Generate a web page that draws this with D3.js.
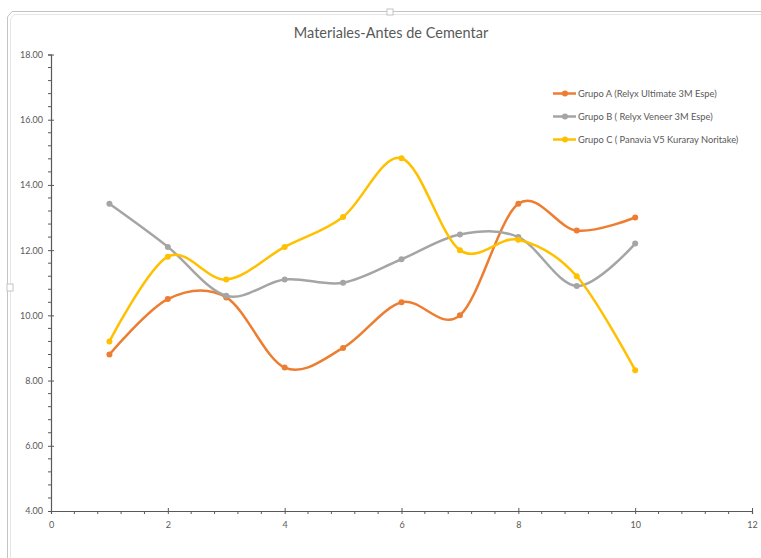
<!DOCTYPE html>
<html>
<head>
<meta charset="utf-8">
<script src="https://cdn.jsdelivr.net/npm/d3@7"></script>
<style>
  html, body { margin: 0; padding: 0; background: #fff; }
  svg { display: block; }
</style>
</head>
<body>
<svg id="chart" width="761" height="558"></svg>
<script>
// Measurement positions (x) and each group's values
const xValues = [1, 2, 3, 4, 5, 6, 7, 8, 9, 10];
const grupoA = [8.8, 10.5, 10.55, 8.4, 9.0, 10.4, 10.0, 13.42, 12.6, 13.0];
const grupoB = [13.42, 12.1, 10.6, 11.1, 11.0, 11.72, 12.48, 12.4, 10.9, 12.2];
const grupoC = [9.2, 11.8, 11.1, 12.1, 13.02, 14.82, 12.0, 12.32, 11.2, 8.32];
const seriesNames = [
  "Grupo A (Relyx Ultimate 3M Espe)",
  "Grupo B ( Relyx Veneer 3M Espe)",
  "Grupo C ( Panavia V5 Kuraray Noritake)"
];
const seriesColors = ["#ED7D31", "#A5A5A5", "#FFC000"];
const yTicks = [4, 6, 8, 10, 12, 14, 16, 18];
const xTicks = [0, 2, 4, 6, 8, 10, 12];
const chartTitle = "Materiales-Antes de Cementar";

const svg = d3.select("#chart");
const font = "Lato, 'Open Sans', sans-serif";

// Chart frame with double edge and sizing handles
const frame = svg.append("g");
frame.append("path").attr("d", "M7.5,558 V17 L12,11.5 H761")
  .attr("fill", "none").attr("stroke", "#c4c4c4").attr("stroke-width", 1);
frame.append("path").attr("d", "M10.5,558 V19 L14,14.5 H761")
  .attr("fill", "none").attr("stroke", "#e6e6e6").attr("stroke-width", 1);
frame.append("rect").attr("x", 387).attr("y", 9).attr("width", 6).attr("height", 6)
  .attr("fill", "#fff").attr("stroke", "#c4c4c4");
frame.append("rect").attr("x", 7).attr("y", 284).attr("width", 6).attr("height", 7)
  .attr("fill", "#fff").attr("stroke", "#c4c4c4");

// Scales
const x = d3.scaleLinear().domain([0, 12]).range([51, 752]);
const y = d3.scaleLinear().domain([4, 18]).range([511, 54.5]);

// Title
svg.append("text")
  .attr("x", 391).attr("y", 38)
  .attr("text-anchor", "middle")
  .attr("font-family", font).attr("font-size", 14.5)
  .attr("fill", "#595959")
  .text(chartTitle);

// Axes
const axisColor = "#595959";
const yMinor = d3.range(4, 18.001, 0.4).filter(v => Math.abs(v / 2 - Math.round(v / 2)) > 1e-6);
const xMinor = d3.range(0, 12.001, 0.4).filter(v => Math.abs(v / 2 - Math.round(v / 2)) > 1e-6);

const yAxisG = svg.append("g").attr("transform", `translate(${x(0)},0)`)
  .call(d3.axisLeft(y).tickValues(yTicks).tickFormat(d3.format(".2f")).tickSize(3).tickPadding(5));
const xAxisG = svg.append("g").attr("transform", `translate(0,${y(4)})`)
  .call(d3.axisBottom(x).tickValues(xTicks).tickFormat(d3.format("d")).tickSize(3).tickPadding(8));

[yAxisG, xAxisG].forEach(g => {
  g.select(".domain").attr("stroke", axisColor).attr("stroke-width", 1.2);
  g.selectAll(".tick line").attr("stroke", axisColor);
  g.selectAll(".tick text").attr("fill", "#595959").attr("font-family", font).attr("font-size", 9);
});
// Major ticks cross the axis line
yAxisG.selectAll(".tick line").attr("x1", 3);
xAxisG.selectAll(".tick line").attr("y1", -3);

// Minor ticks outside the axes
yAxisG.selectAll(".minor").data(yMinor).enter().append("line")
  .attr("x1", -3).attr("x2", 0).attr("y1", d => y(d)).attr("y2", d => y(d))
  .attr("stroke", axisColor);
xAxisG.selectAll(".minor").data(xMinor).enter().append("line")
  .attr("y1", 0).attr("y2", 3).attr("x1", d => x(d)).attr("x2", d => x(d))
  .attr("stroke", axisColor);

// Smoothed series lines with point markers
const line = d3.line()
  .x(d => x(d[0])).y(d => y(d[1]))
  .curve(d3.curveCatmullRom.alpha(0));

[grupoA, grupoB, grupoC].forEach((vals, i) => {
  const pts = xValues.map((xv, j) => [xv, vals[j]]);
  const g = svg.append("g");
  g.append("path").datum(pts).attr("d", line)
    .attr("fill", "none").attr("stroke", seriesColors[i])
    .attr("stroke-width", 2.5).attr("stroke-linejoin", "round");
  g.selectAll("circle").data(pts).enter().append("circle")
    .attr("cx", d => x(d[0])).attr("cy", d => y(d[1])).attr("r", 3)
    .attr("fill", seriesColors[i]);
});

// Legend
const legend = svg.append("g");
seriesNames.forEach((name, i) => {
  const ly = 93.5 + i * 23;
  legend.append("line").attr("x1", 553).attr("x2", 576).attr("y1", ly).attr("y2", ly)
    .attr("stroke", seriesColors[i]).attr("stroke-width", 2.5);
  legend.append("circle").attr("cx", 565).attr("cy", ly).attr("r", 3).attr("fill", seriesColors[i]);
  legend.append("text").attr("x", 578).attr("y", ly + 3.2)
    .attr("font-family", font).attr("font-size", 9.3).attr("fill", "#595959")
    .text(name);
});
</script>
</body>
</html>
